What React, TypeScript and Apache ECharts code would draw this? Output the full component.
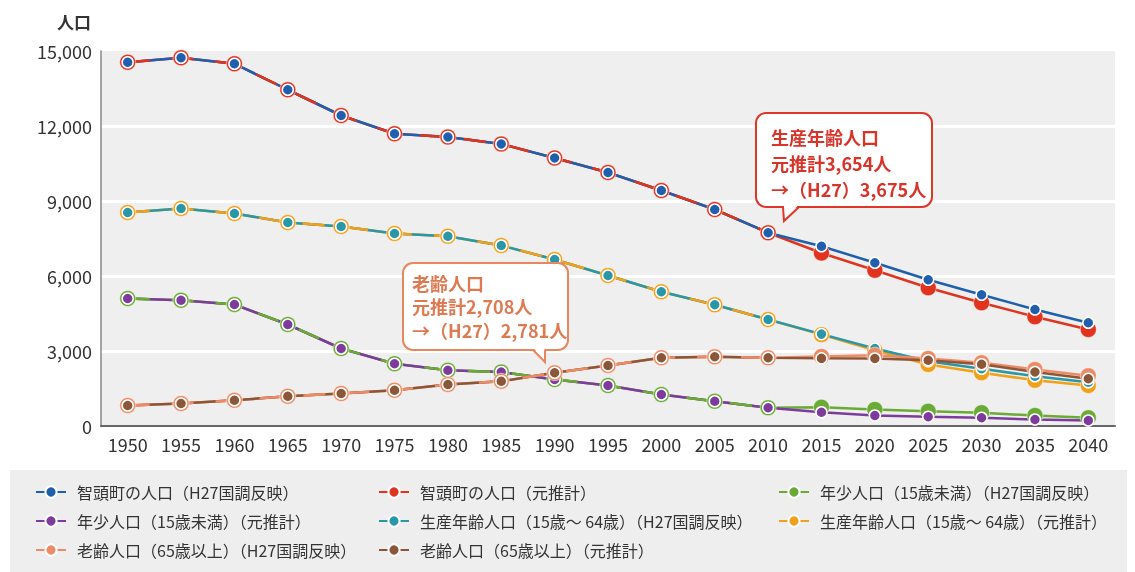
import React, { useEffect, useRef } from 'react';
import * as echarts from 'echarts';

const years = ['1950', '1955', '1960', '1965', '1970', '1975', '1980', '1985', '1990', '1995', '2000', '2005', '2010', '2015', '2020', '2025', '2030', '2035', '2040'];
const yTicks = [0, 3000, 6000, 9000, 12000, 15000];

// 総人口
const totalHistory = [14550, 14730, 14490, 13450, 12420, 11690, 11560, 11280, 10720, 10140, 9420, 8660, 7730];
const totalH27Future = [7190, 6530, 5850, 5250, 4660, 4130];
const totalOrigFuture = [6920, 6230, 5530, 4930, 4370, 3860];
// 年少人口
const youngHistory = [5100, 5030, 4860, 4060, 3100, 2490, 2230, 2160, 1860, 1620, 1260, 990, 730];
const youngH27Future = [750, 660, 590, 530, 420, 330];
const youngOrigFuture = [550, 420, 370, 330, 260, 220];
// 生産年齢人口
const prodHistory = [8540, 8700, 8500, 8140, 7980, 7700, 7590, 7220, 6660, 6020, 5370, 4850, 4260];
const prodH27Future = [3675, 3100, 2590, 2290, 1990, 1750];
const prodOrigFuture = [3654, 3030, 2460, 2130, 1830, 1620];
// 老齢人口
const elderHistory = [820, 900, 1030, 1190, 1300, 1430, 1660, 1790, 2130, 2420, 2730, 2770, 2730];
const elderH27Future = [2781, 2830, 2700, 2530, 2260, 2010];
const elderOrigFuture = [2708, 2700, 2630, 2470, 2160, 1890];

const names = {
  totalH27: '智頭町の人口（H27国調反映）',
  totalOrig: '智頭町の人口（元推計）',
  youngH27: '年少人口（15歳未満）（H27国調反映）',
  youngOrig: '年少人口（15歳未満）（元推計）',
  prodH27: '生産年齢人口（15歳～ 64歳）（H27国調反映）',
  prodOrig: '生産年齢人口（15歳～ 64歳）（元推計）',
  elderH27: '老齢人口（65歳以上）（H27国調反映）',
  elderOrig: '老齢人口（65歳以上）（元推計）',
};

const colors = {
  blue: '#1f5fad',
  red: '#e1341f',
  green: '#6aab35',
  purple: '#7d3c9c',
  teal: '#2a97a6',
  orange: '#f0a11b',
  salmon: '#ec8b66',
  brown: '#8c5638',
};

const FONT = '"Noto Sans CJK JP", "Noto Sans", sans-serif';

function lineSeries(name: string, data: any[], color: string, size: number, top: boolean) {
  return {
    name,
    type: 'line',
    data,
    symbol: 'circle',
    symbolSize: size,
    showSymbol: true,
    lineStyle: { color, width: 2.5 },
    itemStyle: top ? { color, borderColor: '#ffffff', borderWidth: 1.5 } : { color, borderColor: '#ffffff', borderWidth: 0.5 },
    emphasis: { disabled: true },
  };
}

function overlay(id: string, data: number[], color: string) {
  return {
    name: id,
    type: 'line',
    data: data.concat(Array(years.length - data.length).fill('-')),
    symbol: 'none',
    lineStyle: { color, width: 2.5, type: [22, 22] },
    emphasis: { disabled: true },
  };
}

export default function App() {
  const ref = useRef<HTMLDivElement>(null);
  useEffect(() => {
    const chart = echarts.init(ref.current!, null, { renderer: 'svg' });
    const series = [
      lineSeries(names.youngH27, youngHistory.concat(youngH27Future), colors.green, 16, false),
      lineSeries(names.youngOrig, youngHistory.concat(youngOrigFuture), colors.purple, 11, true),
      overlay('ov-young', youngHistory, colors.green),
      lineSeries(names.prodOrig, prodHistory.concat(prodOrigFuture), colors.orange, 16, false),
      lineSeries(names.prodH27, prodHistory.concat(prodH27Future), colors.teal, 11, true),
      overlay('ov-prod', prodHistory, colors.orange),
      lineSeries(names.elderH27, elderHistory.concat(elderH27Future), colors.salmon, 16, false),
      lineSeries(names.elderOrig, elderHistory.concat(elderOrigFuture), colors.brown, 11, true),
      overlay('ov-elder', elderHistory, colors.salmon),
      lineSeries(names.totalOrig, totalHistory.concat(totalOrigFuture), colors.red, 16, false),
      lineSeries(names.totalH27, totalHistory.concat(totalH27Future), colors.blue, 11, true),
      overlay('ov-total', totalHistory, colors.red),
    ];
    const legendBase = {
      orient: 'vertical',
      top: 482,
      padding: 0,
      itemWidth: 30,
      itemHeight: 14,
      itemGap: 9,
      selectedMode: false,
      textStyle: { fontSize: 16, color: '#333', fontFamily: FONT, lineHeight: 20, padding: [0, 0, 0, 6] },
    };
    const calloutRed = '#e0362a';
    const calloutOrange = '#e8865f';
    const option = {
      animation: false,
      textStyle: { fontFamily: FONT },
      grid: { left: 101, right: 20, top: 51, bottom: 146, show: true, backgroundColor: '#efefef', borderWidth: 0 },
      xAxis: {
        type: 'category',
        data: years,
        boundaryGap: true,
        axisLine: { lineStyle: { color: '#666', width: 2 } },
        axisTick: { show: false },
        axisLabel: { fontSize: 18, color: '#333', margin: 9, interval: 0, fontFamily: FONT },
      },
      yAxis: {
        type: 'value',
        min: yTicks[0],
        max: yTicks[yTicks.length - 1],
        interval: yTicks[1] - yTicks[0],
        axisLine: { show: true, lineStyle: { color: '#888', width: 1.5 } },
        axisTick: { show: false },
        axisLabel: {
          fontSize: 18,
          color: '#333',
          margin: 9,
          fontFamily: FONT,
          formatter: (v: number) => v.toLocaleString('en-US'),
        },
        splitLine: {
          show: true,
          lineStyle: { color: ['rgba(0,0,0,0)', '#fff', '#fff', '#fff', '#fff', 'rgba(0,0,0,0)'], width: 3 },
        },
      },
      legend: [
        { ...legendBase, left: 35, data: [names.totalH27, names.youngOrig, names.elderH27] },
        { ...legendBase, left: 378, data: [names.totalOrig, names.prodH27, names.elderOrig] },
        { ...legendBase, left: 778, data: [names.youngH27, names.prodOrig] },
      ],
      graphic: [
        { type: 'rect', z: -10, silent: true, shape: { x: 10, y: 470, width: 1117, height: 102 }, style: { fill: '#eeeeee' } },
        { type: 'text', left: 57, top: 13, style: { text: '人口', fontSize: 17, fontWeight: 'bold', fill: '#333', fontFamily: FONT } },
        // 生産年齢人口 callout
        { type: 'rect', z: 100, shape: { x: 756, y: 113, width: 176, height: 94, r: 10 }, style: { fill: '#fff', stroke: calloutRed, lineWidth: 2 } },
        { type: 'polygon', z: 101, shape: { points: [[784, 205.5], [784, 220], [798, 205.5]] }, style: { fill: '#fff' } },
        { type: 'polyline', z: 101, shape: { points: [[783, 207], [784, 221], [799, 207]] }, style: { stroke: calloutRed, lineWidth: 2, fill: null } },
        {
          type: 'text', z: 102, x: 771, y: 124,
          style: {
            text: '生産年齢人口\n元推計3,654人\n→（H27）3,675人',
            fontSize: 18, fontWeight: 'bold', fill: '#d9342a', lineHeight: 26, fontFamily: FONT,
          },
        },
        // 老齢人口 callout
        { type: 'rect', z: 100, shape: { x: 403, y: 263, width: 165, height: 87, r: 10 }, style: { fill: '#fff', stroke: calloutOrange, lineWidth: 2 } },
        { type: 'polygon', z: 101, shape: { points: [[534, 348.5], [544.5, 361], [544.5, 348.5]] }, style: { fill: '#fff' } },
        { type: 'polyline', z: 101, shape: { points: [[533, 350], [545, 362], [545, 350]] }, style: { stroke: calloutOrange, lineWidth: 2, fill: null } },
        {
          type: 'text', z: 102, x: 412, y: 271,
          style: {
            text: '老齢人口\n元推計2,708人\n→（H27）2,781人',
            fontSize: 18, fontWeight: 'bold', fill: '#de7a52', lineHeight: 23.5, fontFamily: FONT,
          },
        },
      ],
      series,
    };
    chart.setOption(option as any);
    return () => chart.dispose();
  }, []);
  return <div ref={ref} style={{ position: 'fixed', left: 0, top: 0, width: 1135, height: 572 }} />;
}
